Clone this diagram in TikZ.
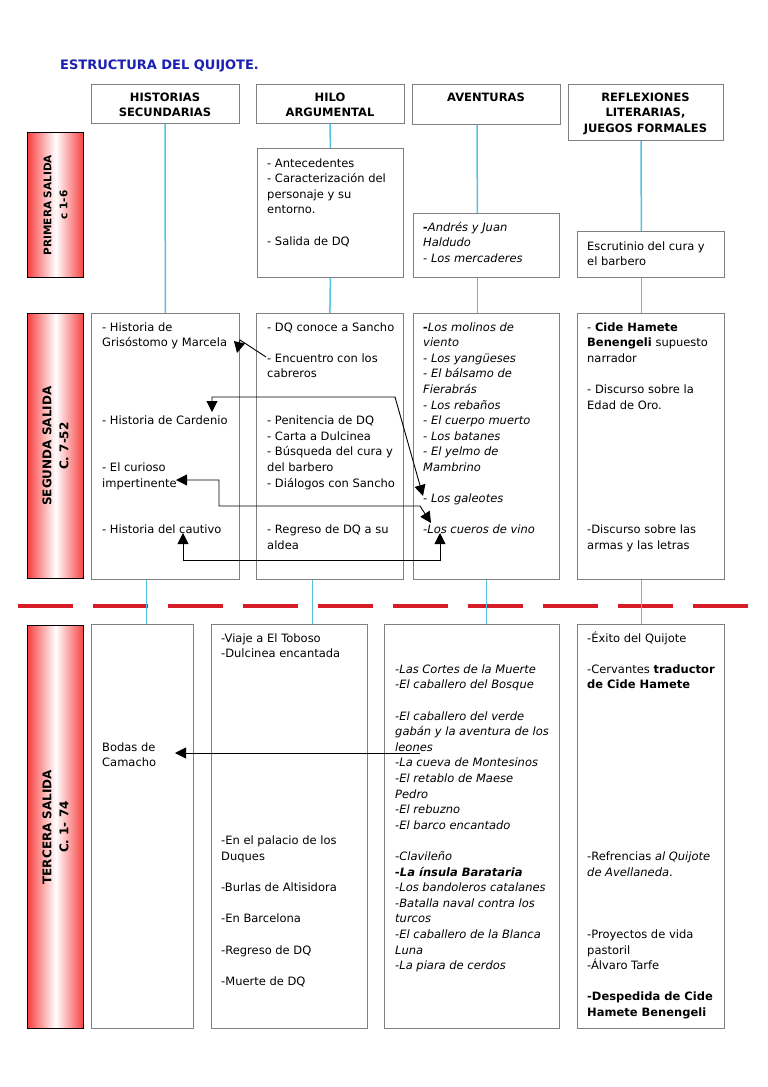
\documentclass[tikz,border=0pt]{standalone}
\usepackage{fontspec}
\setmainfont{DejaVu Sans}
\usetikzlibrary{arrows.meta}
\definecolor{titleblue}{RGB}{28,32,178}
\definecolor{boxgrey}{RGB}{128,128,128}
\definecolor{linkcyan}{RGB}{80,195,225}
\definecolor{labelred}{RGB}{248,64,64}
\definecolor{cutred}{RGB}{215,30,40}
\newcommand\txtsize{\fontsize{11.5}{15.6}\selectfont}
\begin{document}
\begin{tikzpicture}[x=1pt, y=-1pt,
	hdr/.style={draw=boxgrey, line width=0.8pt, align=center, inner xsep=2pt, inner ysep=6pt, anchor=north, font=\txtsize\bfseries},
	box/.style={draw=boxgrey, line width=0.8pt, inner sep=0pt, anchor=north west},
	txt/.style={inner sep=0pt, align=left, anchor=north west, font=\txtsize},
	salida/.style={draw=black, line width=1.2pt, inner sep=0pt, anchor=north west, left color=labelred, right color=labelred, middle color=white},
	saltxt/.style={rotate=90, align=center, inner sep=0pt, font=\fontsize{12}{17}\selectfont\bfseries},
	link/.style={draw=linkcyan, line width=1.5pt},
	jumpone/.style={draw=black, line width=0.9pt, -{Triangle[length=11pt,width=11pt]}},
	jumptwo/.style={draw=black, line width=0.9pt, {Triangle[length=11pt,width=11pt]}-{Triangle[length=11pt,width=11pt]}}]
	\fill[white] (0,0) rectangle (768,1087);
	\useasboundingbox (0,0) rectangle (768,1087);

	\node (title) [anchor=base west, inner sep=0pt, text=titleblue, font=\fontsize{13}{15}\selectfont\bfseries] at (60,69) {ESTRUCTURA DEL QUIJOTE.};

	\node (hist) [hdr, minimum width=148pt] at (165,84) {\strut HISTORIAS\\SECUNDARIAS};
	\node (hilo) [hdr, minimum width=148pt] at (330,84) {\strut HILO\\ARGUMENTAL};
	\node (aven) [hdr, minimum width=148pt, text depth=17pt] at (486,84) {\strut AVENTURAS};
	\node (refl) [hdr, minimum width=155pt] at (645.5,84) {\strut REFLEXIONES\\LITERARIAS,\\JUEGOS FORMALES};

	\node (sal1) [salida, minimum width=56pt, minimum height=145pt] at (27,132) {};
	\node (sal1txt) [saltxt, font=\fontsize{10.5}{16}\selectfont\bfseries] at (sal1.center) {PRIMERA SALIDA\\c 1-6};
	\node (hilo1) [box, minimum width=146pt, minimum height=129pt] at (257,148) {};
	\node (aven1) [box, minimum width=146pt, minimum height=64pt] at (413,213) {};
	\node (refl1) [box, minimum width=147pt, minimum height=46pt] at (577,231) {};

	\node (sal2) [salida, minimum width=56pt, minimum height=265pt] at (27,313) {};
	\node (sal2txt) [saltxt] at (sal2.center) {SEGUNDA SALIDA\\C. 7-52};
	\node (hist2) [box, minimum width=148pt, minimum height=266pt] at (91,313) {};
	\node (hilo2) [box, minimum width=147pt, minimum height=266pt] at (256,313) {};
	\node (aven2) [box, minimum width=146pt, minimum height=266pt] at (413,313) {};
	\node (refl2) [box, minimum width=147pt, minimum height=266pt] at (577,313) {};

	\node (sal3) [salida, minimum width=56pt, minimum height=403pt] at (27,625) {};
	\node (sal3txt) [saltxt] at (sal3.center) {TERCERA SALIDA\\C. 1- 74};
	\node (hist3) [box, minimum width=102pt, minimum height=404pt] at (91,624) {};
	\node (hilo3) [box, minimum width=156pt, minimum height=404pt] at (211,624) {};
	\node (aven3) [box, minimum width=175pt, minimum height=404pt] at (384,624) {};
	\node (refl3) [box, minimum width=147pt, minimum height=404pt] at (577,624) {};

	\node (hilo1txt) [txt] at ([xshift=10pt,yshift=-8pt]hilo1.north west) {\strut - Antecedentes\\- Caracterización del\\personaje y su\\entorno.\\ \\- Salida de DQ};
	\node (aven1txt) [txt, font=\txtsize\itshape] at ([xshift=10pt,yshift=-7pt]aven1.north west) {\strut\textbf{-}Andrés y Juan\\Haldudo\\- Los mercaderes};
	\node (refl1txt) [txt] at ([xshift=10pt,yshift=-8pt]refl1.north west) {\strut Escrutinio del cura y\\el barbero};

	\node (hist2txt) [txt] at ([xshift=11pt,yshift=-7pt]hist2.north west) {\strut - Historia de\\Grisóstomo y Marcela\\ \\ \\ \\ \\- Historia de Cardenio\\ \\ \\- El curioso\\impertinente\\ \\ \\- Historia del cautivo};
	\node (hilo2txt) [txt] at ([xshift=11pt,yshift=-7pt]hilo2.north west) {\strut - DQ conoce a Sancho\\ \\- Encuentro con los\\cabreros\\ \\ \\- Penitencia de DQ\\- Carta a Dulcinea\\- Búsqueda del cura y\\del barbero\\- Diálogos con Sancho\\ \\ \\- Regreso de DQ a su\\aldea};
	\node (aven2txt) [txt, font=\txtsize\itshape] at ([xshift=10pt,yshift=-7pt]aven2.north west) {\strut\textbf{-}Los molinos de\\viento\\- Los yangüeses\\- El bálsamo de\\Fierabrás\\- Los rebaños\\- El cuerpo muerto\\- Los batanes\\- El yelmo de\\Mambrino\\ \\- Los galeotes\\ \\-Los cueros de vino};
	\node (refl2txt) [txt] at ([xshift=10pt,yshift=-7pt]refl2.north west) {\strut - \textbf{Cide Hamete}\\\textbf{Benengeli} supuesto\\narrador\\ \\- Discurso sobre la\\Edad de Oro.\\ \\ \\ \\ \\ \\ \\ \\-Discurso sobre las\\armas y las letras};

	\node (hist3txt) [txt] at ([xshift=11pt,yshift=-7pt]hist3.north west) {\strut\\ \\ \\ \\ \\ \\ \\Bodas de\\Camacho};
	\node (hilo3txt) [txt] at ([xshift=10pt,yshift=-7pt]hilo3.north west) {\strut -Viaje a El Toboso\\-Dulcinea encantada\\ \\ \\ \\ \\ \\ \\ \\ \\ \\ \\ \\-En el palacio de los\\Duques\\ \\-Burlas de Altisidora\\ \\-En Barcelona\\ \\-Regreso de DQ\\ \\-Muerte de DQ};
	\node (aven3txt) [txt, font=\txtsize\itshape] at ([xshift=11pt,yshift=-7pt]aven3.north west) {\strut\\ \\-Las Cortes de la Muerte\\-El caballero del Bosque\\ \\-El caballero del verde\\gabán y la aventura de los\\leones\\-La cueva de Montesinos\\-El retablo de Maese\\Pedro\\-El rebuzno\\-El barco encantado\\ \\-Clavileño\\\textbf{-La ínsula Barataria}\\-Los bandoleros catalanes\\-Batalla naval contra los\\turcos\\-El caballero de la Blanca\\Luna\\-La piara de cerdos};
	\node (refl3txt) [txt] at ([xshift=10pt,yshift=-7pt]refl3.north west) {\strut -Éxito del Quijote\\ \\-Cervantes \textbf{traductor}\\\textbf{de Cide Hamete}\\ \\ \\ \\ \\ \\ \\ \\ \\ \\ \\-Refrencias \textit{al Quijote}\\\textit{de Avellaneda}.\\ \\ \\ \\-Proyectos de vida\\pastoril\\-Álvaro Tarfe\\ \\\textbf{-Despedida de Cide}\\\textbf{Hamete Benengeli}};

	\draw[cutred, line width=4.5pt, dash pattern=on 55pt off 20pt] (18,606) -- (760,606);

	\draw[link] (hist.south) -- (hist2.north);
	\draw[link] (hilo.south) -- (hilo1.north);
	\draw[link] (hilo1.south) -- (hilo2.north);
	\draw[link] ([xshift=-9pt]aven.south) -- ([xshift=-9pt]aven1.north);
	\draw[link] ([xshift=-9pt]aven1.south) -- ([xshift=-9pt]aven2.north);
	\draw[link] ([xshift=-4.5pt]refl.south) -- ([xshift=-9.5pt]refl1.north);
	\draw[link] ([xshift=-9.5pt]refl1.south) -- ([xshift=-9.5pt]refl2.north);
	\draw[link] ([xshift=-19pt]hist2.south) -- ([xshift=4pt]hist3.north);
	\draw[link] ([xshift=-17.5pt]hilo2.south) -- ([xshift=23pt]hilo3.north);
	\draw[link] (aven2.south) -- ([xshift=14.5pt]aven3.north);
	\draw[link] ([xshift=-9.5pt]refl2.south) -- ([xshift=-9.5pt]refl3.north);

	\coordinate (encuentro) at (266,357);
	\coordinate (grisbend) at (240,340);
	\coordinate (grisostomo) at (237,353);
	\coordinate (cardenio) at (212,412);
	\coordinate (cardbend) at (395,397);
	\coordinate (galeotes) at (423,496);
	\coordinate (curioso) at (176,480);
	\coordinate (curbend) at (219,506);
	\coordinate (cuerobend) at (420,506);
	\coordinate (cueros) at (431,523);
	\coordinate (cautivo) at (183,533);
	\coordinate (cautbend) at (183,560);
	\coordinate (cuerosvino) at (440,533);
	\coordinate (leones) at (420,753);
	\coordinate (bodas) at (175,753);

	\draw[jumpone] (encuentro) -- (grisbend) -- (grisostomo);
	\draw[jumptwo] (cardenio) |- (cardbend) -- (galeotes);
	\draw[jumptwo] (curioso) -| (curbend) -- (cuerobend) -- (cueros);
	\draw[jumptwo] (cautivo) -- (cautbend) -| (cuerosvino);
	\draw[jumpone] (leones) -- (bodas);
\end{tikzpicture}
\end{document}
